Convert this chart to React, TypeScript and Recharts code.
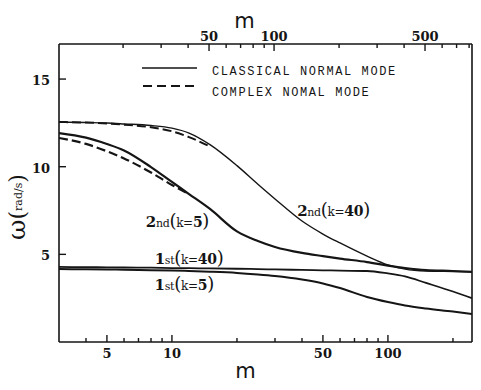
import {
  LineChart,
  Line,
  XAxis,
  YAxis,
  Legend,
  ReferenceDot,
} from "recharts";

// mass ratio m (bottom log axis)
const massValues = [3, 4, 5, 6, 8, 10, 12, 15, 20, 25, 30, 40, 50, 60, 80, 100, 120, 150, 200, 245];

// natural frequencies, rad/s
const classical2ndK40 = [12.55, 12.52, 12.49, 12.44, 12.35, 12.2, 11.92, 11.26, 10.06, 9.0, 8.16, 6.9, 6.16, 5.65, 4.9, 4.4, 4.16, 4.05, 4.02, 4.0];
const complex2ndK40 = [12.55, 12.52, 12.47, 12.4, 12.25, 12.02, 11.69, 11.15];
const classical2ndK5 = [11.92, 11.66, 11.3, 10.93, 9.98, 9.13, 8.44, 7.59, 6.31, 5.76, 5.42, 5.08, 4.9, 4.76, 4.56, 4.36, 4.22, 4.1, 4.05, 4.0];
const complex2ndK5 = [11.64, 11.3, 10.88, 10.47, 9.67, 8.96, 8.44];
const classical1stK40 = [4.28, 4.27, 4.26, 4.25, 4.24, 4.22, 4.21, 4.2, 4.18, 4.16, 4.14, 4.11, 4.09, 4.07, 4.05, 3.91, 3.74, 3.37, 2.88, 2.5];
const classical1stK5 = [4.16, 4.15, 4.14, 4.12, 4.1, 4.08, 4.05, 4.01, 3.94, 3.85, 3.76, 3.56, 3.34, 3.08, 2.57, 2.28, 2.08, 1.91, 1.74, 1.6];

// ticks
const bottomLabels = [5, 10, 50, 100];
const bottomMinor = [4, 6, 7, 8, 9, 20, 30, 40, 60, 70, 80, 90, 200];
const topLabels = [50, 100, 500];
const topMinor = [20, 30, 40, 60, 70, 80, 90, 200, 300, 400, 600, 700, 800];
const yLabels = [5, 10, 15];

// curve annotations placed at (m, omega)
const annotations = [
  { order: "2", suffix: "nd", k: "40", m: 56, w: 7.45 },
  { order: "2", suffix: "nd", k: "5", m: 10.6, w: 6.85 },
  { order: "1", suffix: "st", k: "40", m: 12, w: 4.75 },
  { order: "1", suffix: "st", k: "5", m: 11.4, w: 3.25 },
];

const chartData = massValues.map((m, i) => ({
  m,
  c2k40: classical2ndK40[i],
  x2k40: i < complex2ndK40.length ? complex2ndK40[i] : null,
  c2k5: classical2ndK5[i],
  x2k5: i < complex2ndK5.length ? complex2ndK5[i] : null,
  c1k40: classical1stK40[i],
  c1k5: classical1stK5[i],
}));

const INK = "#151515";
const numFont = "'DejaVu Serif', serif";

const BottomTick = (props: any) => {
  const { x, y, payload } = props;
  const major = bottomLabels.includes(payload.value);
  return (
    <g>
      <line x1={x} x2={x} y1={y} y2={y - (major ? 7 : 4)} stroke={INK} strokeWidth={1.4} />
      {major && (
        <text x={x} y={y + 16} textAnchor="middle" fontFamily={numFont} fontWeight="bold" fontSize={13} fill={INK}>
          {payload.value}
        </text>
      )}
    </g>
  );
};

const TopTick = (props: any) => {
  const { x, y, payload } = props;
  const major = topLabels.includes(payload.value);
  return (
    <g>
      <line x1={x} x2={x} y1={y} y2={y + (major ? 7 : 4)} stroke={INK} strokeWidth={1.4} />
      {major && (
        <text x={x} y={y - 3} textAnchor="middle" fontFamily={numFont} fontWeight="bold" fontSize={13} fill={INK}>
          {payload.value}
        </text>
      )}
    </g>
  );
};

const LeftTick = (props: any) => {
  const { x, y, payload } = props;
  return (
    <g>
      <line x1={x} x2={x + 7} y1={y} y2={y} stroke={INK} strokeWidth={1.4} />
      <text x={x - 9} y={y + 6} textAnchor="end" fontFamily={numFont} fontWeight="bold" fontSize={13} fill={INK}>
        {payload.value}
      </text>
    </g>
  );
};

const LegendBox = () => (
  <svg width={280} height={44}>
    <line x1={2} x2={57} y1={10} y2={10} stroke={INK} strokeWidth={1.6} />
    <line x1={3} x2={57} y1={28} y2={28} stroke={INK} strokeWidth={2} strokeDasharray="9 5" />
    <text x={72} y={17} fontFamily="'Liberation Mono', monospace" fontSize={12} letterSpacing={1.6} fill={INK}>
      CLASSICAL NORMAL MODE
    </text>
    <text x={72} y={38} fontFamily="'Liberation Mono', monospace" fontSize={12} letterSpacing={1.6} fill={INK}>
      COMPLEX NOMAL MODE
    </text>
  </svg>
);

const annotationShape = (a: (typeof annotations)[number]) => (p: any) => (
  <text x={p.cx} y={p.cy + 5} textAnchor="middle" fontFamily={numFont} fill={INK} letterSpacing={-0.3}>
    <tspan fontSize={15} fontWeight="bold">{a.order}</tspan>
    <tspan fontSize={11}>{a.suffix}</tspan>
    <tspan fontSize={18}>(</tspan>
    <tspan fontSize={12}>k=</tspan>
    <tspan fontSize={14} fontWeight="bold">{a.k}</tspan>
    <tspan fontSize={18}>)</tspan>
  </text>
);

export default function App() {
  return (
    <div style={{ position: "absolute", left: 0, top: 0, width: 481, height: 390, background: "#fff" }}>
      <LineChart width={481} height={390} data={chartData} margin={{ top: 0, right: 0, bottom: 0, left: 0 }}>
        <XAxis
          xAxisId="bottom"
          dataKey="m"
          type="number"
          scale="log"
          domain={[3, 245]}
          allowDataOverflow
          ticks={[...bottomLabels, ...bottomMinor]}
          interval={0}
          tick={<BottomTick />}
          tickLine={false}
          tickSize={0}
          tickMargin={0}
          height={48}
          axisLine={{ stroke: INK, strokeWidth: 1.6 }}
          label={{
            content: ({ viewBox }: any) => (
              <text x={viewBox.x + viewBox.width / 2 - 20} y={viewBox.y + 36} textAnchor="middle" fontFamily="'DejaVu Sans', sans-serif" fontSize={21} fill={INK}>
                m
              </text>
            ),
          }}
        />
        <XAxis
          xAxisId="top"
          dataKey="m"
          orientation="top"
          type="number"
          scale="log"
          domain={[10.1, 825]}
          allowDataOverflow
          ticks={[...topLabels, ...topMinor]}
          interval={0}
          tick={<TopTick />}
          tickLine={false}
          tickSize={0}
          tickMargin={0}
          height={44}
          axisLine={{ stroke: INK, strokeWidth: 1.6 }}
          label={{
            content: ({ viewBox }: any) => (
              <text x={viewBox.x + viewBox.width / 2 - 21} y={viewBox.y + 28} textAnchor="middle" fontFamily="'DejaVu Sans', sans-serif" fontSize={21} fill={INK}>
                m
              </text>
            ),
          }}
        />
        <YAxis
          yAxisId="left"
          type="number"
          domain={[0, 17]}
          allowDataOverflow
          ticks={yLabels}
          interval={0}
          tick={<LeftTick />}
          tickLine={false}
          tickSize={0}
          tickMargin={0}
          width={59}
          axisLine={{ stroke: INK, strokeWidth: 1.6 }}
          label={{
            content: ({ viewBox }: any) => {
              const cx = viewBox.x + 25;
              const cy = viewBox.y + viewBox.height / 2 + 14;
              return (
                <text x={cx} y={cy} textAnchor="middle" transform={`rotate(-90 ${cx} ${cy})`} fontFamily={numFont} fill={INK}>
                  <tspan fontSize={25}>ω</tspan>
                  <tspan fontSize={22}>(</tspan>
                  <tspan fontSize={11} dy={-3}>rad/s</tspan>
                  <tspan fontSize={22} dy={3}>)</tspan>
                </text>
              );
            },
          }}
        />
        <YAxis
          yAxisId="right"
          orientation="right"
          type="number"
          domain={[0, 17]}
          tick={false}
          tickLine={false}
          width={9}
          axisLine={{ stroke: INK, strokeWidth: 1.6 }}
        />
        <Legend layout="horizontal" verticalAlign="middle" align="center" wrapperStyle={{ top: 58, left: 140, width: 280 }} content={() => <LegendBox />} />

        {/* invisible series so the top scale gets its ticks */}
        <Line xAxisId="top" yAxisId="right" dataKey="c1k40" stroke="none" dot={false} legendType="none" isAnimationActive={false} />

        <Line xAxisId="bottom" yAxisId="left" type="monotone" dataKey="c2k40" stroke={INK} strokeWidth={1.4} dot={false} isAnimationActive={false} />
        <Line xAxisId="bottom" yAxisId="left" type="monotone" dataKey="x2k40" stroke={INK} strokeWidth={2} strokeDasharray="9 4" dot={false} isAnimationActive={false} />
        <Line xAxisId="bottom" yAxisId="left" type="monotone" dataKey="c2k5" stroke={INK} strokeWidth={2.2} dot={false} isAnimationActive={false} />
        <Line xAxisId="bottom" yAxisId="left" type="monotone" dataKey="x2k5" stroke={INK} strokeWidth={2.2} strokeDasharray="9 4" dot={false} isAnimationActive={false} />
        <Line xAxisId="bottom" yAxisId="left" type="monotone" dataKey="c1k40" stroke={INK} strokeWidth={1.8} dot={false} isAnimationActive={false} />
        <Line xAxisId="bottom" yAxisId="left" type="monotone" dataKey="c1k5" stroke={INK} strokeWidth={2} dot={false} isAnimationActive={false} />

        {annotations.map((a, i) => (
          <ReferenceDot key={i} xAxisId="bottom" yAxisId="left" x={a.m} y={a.w} r={0} shape={annotationShape(a)} />
        ))}
      </LineChart>
    </div>
  );
}
